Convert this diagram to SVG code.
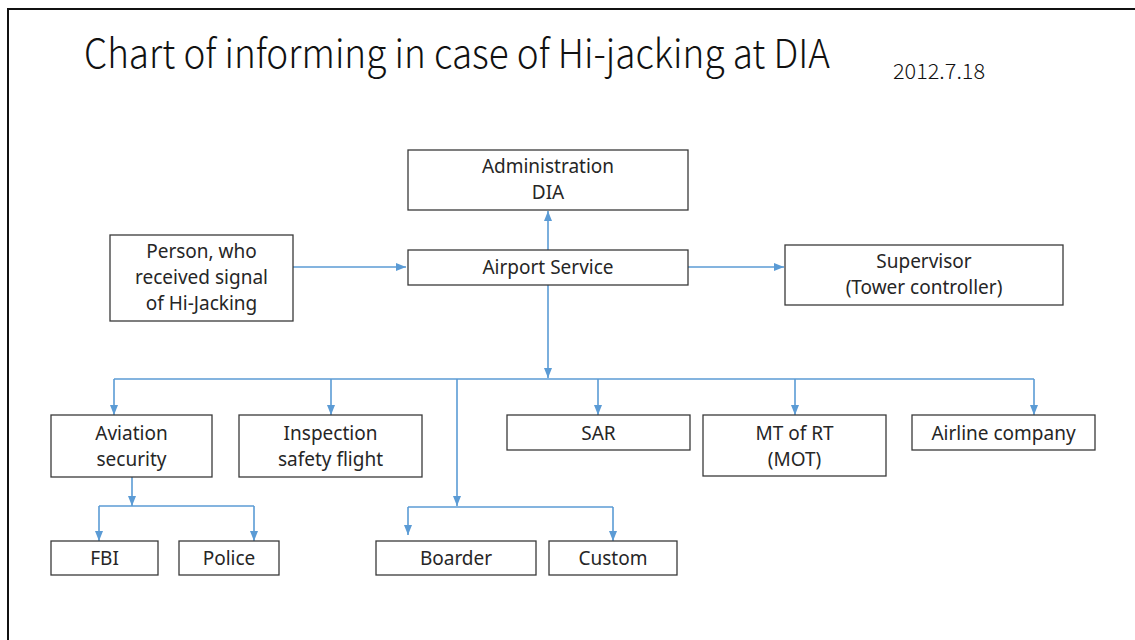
<svg xmlns="http://www.w3.org/2000/svg" width="1135" height="640" viewBox="0 0 1135 640">
  <style>
    .box { fill: #ffffff; stroke: #3a3a3a; stroke-width: 1.3; }
    .lbl { font-family: "Noto Sans", "Noto Sans CJK JP", sans-serif; font-size: 19px; fill: #262626; text-anchor: middle; }
    .ttl { font-family: "Noto Sans CJK JP", "Noto Sans", sans-serif; font-weight: 300; fill: #111111; }
    .wire { fill: none; stroke: #5b9bd5; stroke-width: 1.6; }
    .arr { marker-end: url(#head); }
  </style>
  <defs>
    <marker id="head" markerUnits="userSpaceOnUse" markerWidth="10" markerHeight="10" viewBox="0 0 10 10" refX="10" refY="5" orient="auto">
      <path d="M0,1 L10,5 L0,9 Z" fill="#5b9bd5"/>
    </marker>
  </defs>

  <rect width="1135" height="640" fill="#ffffff"/>
  <!-- slide frame -->
  <rect x="8" y="9" width="1140" height="650" fill="none" stroke="#111111" stroke-width="2"/>

  <text class="ttl" x="84" y="68" font-size="40" textLength="746" lengthAdjust="spacingAndGlyphs">Chart of informing in case of Hi-jacking at DIA</text>
  <text class="ttl" x="893" y="79" font-size="21" font-weight="400" textLength="92" lengthAdjust="spacingAndGlyphs">2012.7.18</text>

  <!-- connectors -->
  <g id="connectors">
    <path class="wire arr" d="M293,267 H406"/>
    <path class="wire arr" d="M548,250 V211"/>
    <path class="wire arr" d="M688,267 H784"/>
    <path class="wire arr" d="M548,285 V378"/>
    <path class="wire" d="M114,379 H1034"/>
    <path class="wire arr" d="M114,379 V415"/>
    <path class="wire arr" d="M331,379 V415"/>
    <path class="wire arr" d="M457,379 V506"/>
    <path class="wire arr" d="M598,379 V415"/>
    <path class="wire arr" d="M795,379 V415"/>
    <path class="wire arr" d="M1034,379 V415"/>
    <path class="wire" d="M408,507 H613"/>
    <path class="wire arr" d="M408,507 V535"/>
    <path class="wire arr" d="M613,507 V541"/>
    <path class="wire arr" d="M132,477 V506"/>
    <path class="wire" d="M99,506 H254"/>
    <path class="wire arr" d="M99,506 V541"/>
    <path class="wire arr" d="M254,506 V541"/>
  </g>

  <g id="admin">
    <rect class="box" x="408" y="150" width="280" height="60"/>
    <text class="lbl" x="548" y="173">Administration</text>
    <text class="lbl" x="548" y="199">DIA</text>
  </g>
  <g id="airport-service">
    <rect class="box" x="408" y="250" width="280" height="35"/>
    <text class="lbl" x="548" y="274">Airport Service</text>
  </g>
  <g id="person">
    <rect class="box" x="110" y="235" width="183" height="86"/>
    <text class="lbl" x="201.5" y="258">Person, who</text>
    <text class="lbl" x="201.5" y="284">received signal</text>
    <text class="lbl" x="201.5" y="310">of Hi-Jacking</text>
  </g>
  <g id="supervisor">
    <rect class="box" x="785" y="245" width="278" height="60"/>
    <text class="lbl" x="924" y="268">Supervisor</text>
    <text class="lbl" x="924" y="294">(Tower controller)</text>
  </g>
  <g id="aviation-security">
    <rect class="box" x="51" y="415" width="161" height="62"/>
    <text class="lbl" x="131.5" y="440">Aviation</text>
    <text class="lbl" x="131.5" y="466">security</text>
  </g>
  <g id="inspection">
    <rect class="box" x="239" y="415" width="183" height="62"/>
    <text class="lbl" x="330.5" y="440">Inspection</text>
    <text class="lbl" x="330.5" y="466">safety flight</text>
  </g>
  <g id="sar">
    <rect class="box" x="507" y="415" width="183" height="35"/>
    <text class="lbl" x="598.5" y="440">SAR</text>
  </g>
  <g id="mot">
    <rect class="box" x="703" y="415" width="183" height="61"/>
    <text class="lbl" x="794.5" y="440">MT of RT</text>
    <text class="lbl" x="794.5" y="466">(MOT)</text>
  </g>
  <g id="airline">
    <rect class="box" x="912" y="415" width="183" height="35"/>
    <text class="lbl" x="1003.5" y="440">Airline company</text>
  </g>
  <g id="fbi">
    <rect class="box" x="51" y="541" width="107" height="34"/>
    <text class="lbl" x="104.5" y="565">FBI</text>
  </g>
  <g id="police">
    <rect class="box" x="179" y="541" width="100" height="34"/>
    <text class="lbl" x="229" y="565">Police</text>
  </g>
  <g id="boarder">
    <rect class="box" x="376" y="541" width="160" height="34"/>
    <text class="lbl" x="456" y="565">Boarder</text>
  </g>
  <g id="custom">
    <rect class="box" x="549" y="541" width="128" height="34"/>
    <text class="lbl" x="613" y="565">Custom</text>
  </g>
</svg>
